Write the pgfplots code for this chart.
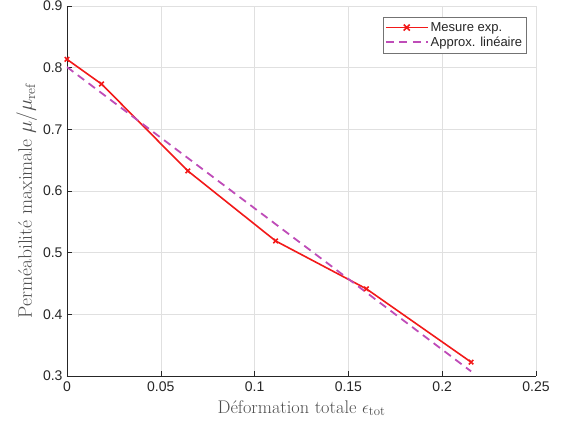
\documentclass[border=0pt]{standalone}
\usepackage{pgfplots}
\pgfplotsset{compat=1.18}
\usepackage{fontspec}
\newfontfamily\arial{Liberation Sans}
\definecolor{axgray}{rgb}{0.15,0.15,0.15}
\definecolor{gridgray}{rgb}{0.88,0.88,0.88}
\definecolor{mred}{rgb}{0.95,0.1,0.1}
\definecolor{mmag}{rgb}{0.75,0.3,0.72}
\begin{document}
\begin{tikzpicture}
\begin{axis}[
  scale only axis,
  width=469pt, height=370pt,
  xmin=0, xmax=0.25, ymin=0.3, ymax=0.9,
  xtick={0,0.05,...,0.25},
  ytick={0.3,0.4,...,0.9},
  xticklabels={0,0.05,0.1,0.15,0.2,0.25},
  yticklabels={0.3,0.4,0.5,0.6,0.7,0.8,0.9},
  axis x line*=bottom, axis y line*=left,
  axis line style={axgray, line width=0.6pt, -},
  tick style={axgray, line width=0.6pt},
  tick align=inside,
  major tick length=5pt,
  grid=major,
  major grid style={gridgray, line width=0.6pt},
  ticklabel style={font=\arial\fontsize{14}{16}\selectfont, text=axgray},
  xticklabel style={yshift=-2pt},
  yticklabel style={xshift=-1pt},
  /pgf/number format/assume math mode=true,
  xlabel={D\'eformation totale $\epsilon_{\mathrm{tot}}$},
  ylabel={Perm\'eabilit\'e maximale $\mu/\mu_{\mathrm{ref}}$},
  xlabel style={font=\fontsize{18.3}{20}\selectfont, text=black!70, yshift=-2pt},
  ylabel style={font=\fontsize{19.5}{21}\selectfont, text=black!70, yshift=-1pt, xshift=-10pt},
  legend style={at={(0.9795,0.970)}, anchor=north east, draw=black!55,
    font=\arial\fontsize{13}{14}\selectfont, text=black!85, inner xsep=2pt, inner ysep=3pt, row sep=0pt,
    legend cell align=left},
]
\addplot[color=mred, line width=1.6pt, mark=x, mark size=3.2pt, mark options={line width=1.6pt, solid},
  legend image code/.code={
    \draw[draw=mred, line width=1.6pt, solid] (0pt,0pt) -- (42pt,0pt);
    \draw[draw=mred, line width=1.6pt, solid] (18pt,-3pt) -- (24pt,3pt) (18pt,3pt) -- (24pt,-3pt);}]
  coordinates {(0,0.8135) (0.0184,0.7735) (0.0644,0.6326) (0.1112,0.5190) (0.1596,0.4413) (0.2154,0.3225)};
\addlegendentry{Mesure exp.}
\addplot[color=mmag, line width=1.8pt, dash pattern=on 8pt off 5.5pt,
  legend image code/.code={
    \draw[draw=mmag, line width=1.8pt, dash pattern=on 8pt off 5.5pt] (0pt,0pt) -- (42pt,0pt);}]
  coordinates {(0,0.801) (0.2154,0.3075)};
\addlegendentry{Approx. lin\'eaire}
\end{axis}
\pgfresetboundingbox
\path ([shift={(-67pt,-51pt)}]current axis.south west) rectangle ([shift={(30pt,6pt)}]current axis.north east);
\end{tikzpicture}
\end{document}
